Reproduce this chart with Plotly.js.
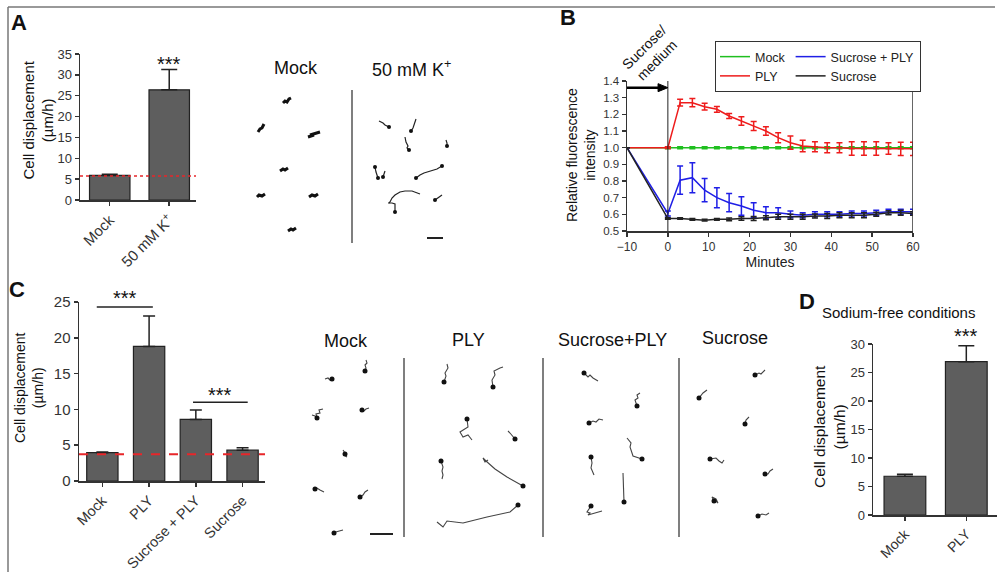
<!DOCTYPE html>
<html><head><meta charset="utf-8">
<script src="https://cdn.plot.ly/plotly-3.0.1.min.js"></script>
<style>html,body{margin:0;padding:0;background:#fff}#chart{width:1000px;height:581px}</style>
</head><body><div id="chart"></div>
<script>
// ---------- DATA ----------
// Panel A
const aCats = ['Mock', '50 mM K<sup>+</sup>'];
const aMeans = [5.9, 26.4];
const aErr = [0.3, 4.9];
const aBaseline = 5.75;
const aYTicks = [0, 5, 10, 15, 20, 25, 30, 35];

// Panel B
const bTime = [-10, 0, 3, 6, 9, 12, 15, 18, 21, 24, 27, 30, 33, 36, 39, 42, 45, 48, 51, 54, 57, 60];
const bMock = [1.0, 1.0, 1.0, 1.0, 1.0, 0.999, 0.999, 1.0, 1.0, 1.0, 1.0, 0.999, 0.999, 1.0, 1.0, 1.0, 1.0, 1.0, 1.0, 1.0, 1.0, 1.0];
const bMockErr = [0, 0.006, 0.006, 0.006, 0.006, 0.006, 0.006, 0.006, 0.006, 0.006, 0.006, 0.006, 0.006, 0.006, 0.006, 0.006, 0.006, 0.006, 0.006, 0.006, 0.006, 0.006];
const bPly = [1.0, 1.0, 1.27, 1.27, 1.246, 1.23, 1.19, 1.16, 1.13, 1.10, 1.06, 1.03, 1.01, 1.005, 1.0, 1.0, 0.995, 0.995, 0.995, 0.995, 0.993, 0.993];
const bPlyErr = [0, 0.005, 0.02, 0.025, 0.02, 0.017, 0.015, 0.025, 0.027, 0.025, 0.03, 0.04, 0.035, 0.03, 0.03, 0.03, 0.04, 0.04, 0.04, 0.035, 0.04, 0.04];
const bSucPly = [1.0, 0.605, 0.805, 0.82, 0.745, 0.70, 0.67, 0.65, 0.625, 0.61, 0.61, 0.60, 0.595, 0.60, 0.60, 0.60, 0.605, 0.605, 0.61, 0.615, 0.615, 0.615];
const bSucPlyErr = [0, 0.015, 0.085, 0.09, 0.07, 0.06, 0.055, 0.055, 0.045, 0.035, 0.03, 0.02, 0.015, 0.015, 0.015, 0.015, 0.015, 0.015, 0.015, 0.015, 0.015, 0.015];
const bSuc = [1.0, 0.575, 0.575, 0.57, 0.565, 0.57, 0.57, 0.575, 0.575, 0.58, 0.585, 0.585, 0.585, 0.59, 0.59, 0.595, 0.595, 0.595, 0.60, 0.61, 0.61, 0.605];
const bSucErr = [0, 0.005, 0.005, 0.005, 0.005, 0.005, 0.008, 0.01, 0.012, 0.012, 0.015, 0.015, 0.015, 0.012, 0.015, 0.015, 0.015, 0.015, 0.012, 0.012, 0.015, 0.01];
const bXTicks = [-10, 0, 10, 20, 30, 40, 50, 60];
const bYTicks = [0.5, 0.6, 0.7, 0.8, 0.9, 1.0, 1.1, 1.2, 1.3, 1.4];
const bTreatStart = -10, bTreatEnd = 0, bArrowLevel = 1.36;

// Panel C
const cCats = ['Mock', 'PLY', 'Sucrose + PLY', 'Sucrose'];
const cMeans = [3.95, 18.8, 8.6, 4.3];
const cErr = [0.1, 4.25, 1.3, 0.35];
const cBaseline = 3.72;
const cYTicks = [0, 5, 10, 15, 20, 25];

// Panel D
const dCats = ['Mock', 'PLY'];
const dMeans = [6.8, 26.9];
const dErr = [0.35, 2.8];
const dYTicks = [0, 5, 10, 15, 20, 25, 30];

// Cell tracks (image units of each micrograph strip)
const aMockTracks = [
  [[33,18],[35,16],[37,17],[39,14],[41,13]],
  [[8,47],[10,44],[12,43],[13,41],[14,39]],
  [[58,52],[64,50],[60,50],[66,48],[70,47]],
  [[30,86],[33,84],[35,85],[38,83]],
  [[7,112],[9,110],[12,111],[15,109]],
  [[59,112],[62,110],[65,111],[68,109]],
  [[38,146],[41,144],[43,145],[46,143]]
];
const aKTracks = [
  [[129,36],[133,38],[135,40],[139,42]],
  [[166,34],[164,40],[163,43],[161,46]],
  [[155,52],[156,57],[158,61],[157,63],[159,65]],
  [[196,55],[197,58],[197,61]],
  [[125,82],[126,87],[128,93]],
  [[133,92],[134,89],[135,86]],
  [[166,93],[170,90],[174,88],[178,87],[182,86],[187,84],[192,81]],
  [[170,109],[162,106],[155,106],[150,107],[145,110],[142,113],[140,117],[139,118]],
  [[138,118],[142,118],[145,119],[145,123],[145,127]],
  [[185,115],[188,113],[192,110]]
];
const aKDots = [[139,42],[161,46],[159,65],[197,61],[128,93],[133,92],[166,93],[192,81],[145,127],[185,115],[125,82]];
const cTracks = [
  // Mock
  [[65,21],[66,18],[65,15],[67,13],[66,10]],
  [[25,29],[28,28],[30,30],[33,29]],
  [[12,65],[15,66],[17,68],[16,64],[20,63],[19,60],[23,59]],
  [[60,60],[64,61],[66,59],[69,58]],
  [[43,100],[45,103],[44,105],[47,107]],
  [[13,139],[17,138],[20,140],[24,142]],
  [[60,147],[63,145],[65,142],[68,140]],
  [[32,183],[36,182],[39,181],[43,180]],
  // PLY
  [[144,32],[146,26],[145,23],[148,18],[147,14]],
  [[193,37],[192,30],[195,25],[194,21],[200,18],[203,17]],
  [[167,69],[168,77],[160,82],[163,87],[168,85],[170,88],[172,90]],
  [[215,89],[212,85],[210,83],[208,81]],
  [[141,111],[143,117],[142,121],[143,125],[142,129]],
  [[223,136],[207,127],[195,119],[190,115],[186,111],[183,108],[185,112],[188,110]],
  [[218,155],[210,162],[187,167],[163,173],[147,171],[143,177],[137,172]],
  // Sucrose + PLY
  [[284,23],[288,27],[290,25],[293,28],[298,31]],
  [[337,56],[335,50],[338,48],[337,45],[340,43]],
  [[289,73],[293,71],[296,72],[299,69],[303,70]],
  [[342,109],[333,106],[330,97],[331,93],[327,88]],
  [[291,107],[292,113],[291,118],[294,125]],
  [[324,152],[323,123]],
  [[291,156],[287,162],[290,163],[288,165],[302,161]],
  // Sucrose
  [[455,25],[459,23],[461,24],[465,20]],
  [[399,48],[401,45],[403,43],[407,40]],
  [[445,74],[446,70],[449,67]],
  [[410,109],[416,108],[419,111],[422,113],[424,110]],
  [[465,124],[468,124],[470,121],[473,119]],
  [[414,151],[412,147],[416,149],[418,153],[415,150]],
  [[458,166],[462,164],[466,165],[469,163]]
];
const cDots = [[65,21],[32,29],[17,68],[62,60],[45,104],[15,139],[60,147],[34,183],
  [144,32],[193,37],[167,69],[215,89],[141,111],[223,136],[218,155],
  [284,23],[337,56],[289,73],[342,109],[291,107],[324,152],[291,156],
  [455,25],[399,48],[445,74],[410,109],[465,124],[414,151],[458,166]];

// ---------- HELPERS ----------
const W = 1000, H = 581;
const px = v => v / W;
const py = v => 1 - v / H;
const FONT = 'Liberation Sans, Arial, sans-serif';
const AX = '#333';
const BARFILL = '#5e5e5e';

function flat(tracks) {
  const x = [], y = [];
  tracks.forEach(t => { t.forEach(p => { x.push(p[0]); y.push(p[1]); }); x.push(null); y.push(null); });
  return {x, y};
}
function valAxis(d0, d1, range, ticks, anchor, size) {
  return {domain: [py(d1), py(d0)], range, tickvals: ticks, anchor,
    showline: true, linecolor: AX, linewidth: 1.5, ticks: 'outside', ticklen: 4, tickwidth: 1.5, tickcolor: AX,
    showgrid: false, zeroline: false, tickfont: {size, color: '#333', family: FONT}};
}
function catAxis(d0, d1, range, anchor, size) {
  return {domain: [px(d0), px(d1)], range, type: 'category', anchor,
    showline: true, linecolor: AX, linewidth: 1.5, ticks: 'outside', ticklen: 4, tickwidth: 1.5, tickcolor: AX,
    tickangle: -45, showgrid: false, zeroline: false, tickfont: {size, color: '#333', family: FONT}};
}
function barTrace(xa, ya, cats, means, err, w, bw) {
  return {type: 'bar', x: cats, y: means, xaxis: xa, yaxis: ya, width: bw, showlegend: false,
    marker: {color: BARFILL, line: {color: '#222', width: 1.2}},
    error_y: {type: 'data', array: err, arrayminus: err.map(() => 0), symmetric: false,
      color: '#222', thickness: 1.5, width: w}};
}
function lineTrace(name, y, err, color, group) {
  return {type: 'scatter', mode: 'lines', name, x: bTime, y, xaxis: 'x2', yaxis: 'y2',
    legendgroup: group, line: {color, width: 1.5},
    error_y: {type: 'data', array: err, color, thickness: 1.5, width: 3}};
}

// ---------- TRACES ----------
const aMockF = flat(aMockTracks), aKF = flat(aKTracks), cF = flat(cTracks);
const data = [
  barTrace('x', 'y', aCats, aMeans, aErr, 8, 0.68),
  lineTrace('Mock', bMock, bMockErr, '#1fbf1f', 'g1'),
  lineTrace('PLY', bPly, bPlyErr, '#ee1c1c', 'g1'),
  lineTrace('Sucrose + PLY', bSucPly, bSucPlyErr, '#1f1fe6', 'g2'),
  lineTrace('Sucrose', bSuc, bSucErr, '#222', 'g2'),
  barTrace('x3', 'y3', cCats, cMeans, cErr, 6, 0.67),
  barTrace('x4', 'y4', dCats, dMeans, dErr, 8, 0.68),
  {type: 'scatter', mode: 'lines', x: aMockF.x, y: aMockF.y, xaxis: 'x5', yaxis: 'y5', showlegend: false,
    line: {color: '#111', width: 3}, hoverinfo: 'skip'},
  {type: 'scatter', mode: 'lines', x: aKF.x, y: aKF.y, xaxis: 'x5', yaxis: 'y5', showlegend: false,
    line: {color: '#222', width: 1.2}, hoverinfo: 'skip'},
  {type: 'scatter', mode: 'markers', x: aKDots.map(p => p[0]), y: aKDots.map(p => p[1]), xaxis: 'x5', yaxis: 'y5',
    showlegend: false, marker: {color: '#111', size: 4}, hoverinfo: 'skip'},
  {type: 'scatter', mode: 'lines', x: cF.x, y: cF.y, xaxis: 'x6', yaxis: 'y6', showlegend: false,
    line: {color: '#444', width: 1.1}, hoverinfo: 'skip'},
  {type: 'scatter', mode: 'markers', x: cDots.map(p => p[0]), y: cDots.map(p => p[1]), xaxis: 'x6', yaxis: 'y6',
    showlegend: false, marker: {color: '#111', size: 5}, hoverinfo: 'skip'}
];

// ---------- LAYOUT ----------
const ann = (x, y, text, size, extra) => Object.assign({xref: 'paper', yref: 'paper', x: px(x), y: py(y), text,
  showarrow: false, font: {size, color: '#111', family: FONT}, xanchor: 'center', yanchor: 'middle'}, extra || {});
const star = (xr, yr, x, y, extra) => Object.assign({xref: xr, yref: yr, x, y, text: '***', showarrow: false, yanchor: 'middle',
  font: {size: 20, color: '#111', family: FONT}}, extra || {});

// arrow (treatment period) in panel B: shaft + filled head, in data units of x2/y2
const headLen = 2.4, headHalf = 0.024;
const arrowHead = `M ${bTreatEnd - headLen},${bArrowLevel + headHalf} L ${bTreatEnd},${bArrowLevel} L ${bTreatEnd - headLen},${bArrowLevel - headHalf} Z`;

const layout = {
  width: W, height: H, margin: {l: 0, r: 0, t: 0, b: 0}, paper_bgcolor: '#fff', plot_bgcolor: 'rgba(0,0,0,0)',
  font: {family: FONT, color: '#222'}, showlegend: true, hovermode: false,
  xaxis: catAxis(80, 196, [-0.5, 1.45], 'y', 15),
  yaxis: valAxis(54, 200, [0, 35], aYTicks, 'x', 13),
  xaxis2: {domain: [px(627), px(913)], range: [-10, 60], tickvals: bXTicks, anchor: 'y2',
    showline: true, linecolor: AX, linewidth: 1.5, ticks: 'outside', ticklen: 4, tickwidth: 1.5, tickcolor: AX,
    showgrid: false, zeroline: false, tickfont: {size: 12, color: '#333'},
    title: {text: 'Minutes', font: {size: 14, color: '#222'}, standoff: 4}},
  yaxis2: Object.assign(valAxis(81, 231, [0.5, 1.4], bYTicks, 'x2', 11.5), {tickformat: '.1f'}),
  xaxis3: catAxis(79, 265, [-0.5, 3.48], 'y3', 14.5),
  yaxis3: valAxis(302, 481, [0, 25], cYTicks, 'x3', 15),
  xaxis4: catAxis(873, 997, [-0.52, 1.5], 'y4', 14),
  yaxis4: valAxis(344, 515, [0, 30], dYTicks, 'x4', 13),
  xaxis5: {domain: [px(250), px(500)], range: [0, 250], visible: false, anchor: 'y5'},
  yaxis5: {domain: [py(250), py(85)], range: [165, 0], visible: false, anchor: 'x5'},
  xaxis6: {domain: [px(300), px(780)], range: [0, 480], visible: false, anchor: 'y6'},
  yaxis6: {domain: [py(545), py(350)], range: [195, 0], visible: false, anchor: 'x6'},
  legend: {x: px(715), y: py(41), xanchor: 'left', yanchor: 'top', orientation: 'h', traceorder: 'grouped',
    bordercolor: '#333', borderwidth: 1, bgcolor: '#fff', font: {size: 12.5, color: '#222'}, itemwidth: 30, tracegroupgap: 2},
  shapes: [
    // figure frame
    {type: 'line', xref: 'paper', yref: 'paper', x0: px(8), x1: px(995), y0: py(7), y1: py(7), line: {color: '#777', width: 1.5}},
    {type: 'line', xref: 'paper', yref: 'paper', x0: px(8), x1: px(8), y0: py(7), y1: py(572), line: {color: '#777', width: 1.5}},
    // baselines
    {type: 'line', xref: 'x domain', yref: 'y', x0: 0, x1: 1, y0: aBaseline, y1: aBaseline, line: {color: '#e8262a', width: 1.5, dash: 'dot'}},
    {type: 'line', xref: 'x3 domain', yref: 'y3', x0: 0, x1: 1, y0: cBaseline, y1: cBaseline, line: {color: '#e8262a', width: 2, dash: 'dash'}},
    // panel B verticals
    {type: 'line', xref: 'x2', yref: 'y2', x0: 0, x1: 0, y0: 0.5, y1: 1.42, line: {color: '#222', width: 1}},
    {type: 'line', xref: 'x2', yref: 'y2', x0: 60, x1: 60, y0: 0.5, y1: 1.4, line: {color: '#333', width: 1.5}},
    // treatment arrow
    {type: 'line', xref: 'x2', yref: 'y2', x0: bTreatStart, x1: bTreatEnd - headLen + 0.3, y0: bArrowLevel, y1: bArrowLevel,
      line: {color: '#000', width: 2.5}},
    {type: 'path', xref: 'x2', yref: 'y2', path: arrowHead, fillcolor: '#000', line: {color: '#000', width: 1}},
    // significance bars panel C
    {type: 'line', xref: 'x3', yref: 'y3', x0: -0.12, x1: 1.08, y0: 24.3, y1: 24.3, line: {color: '#222', width: 1.5}},
    {type: 'line', xref: 'x3', yref: 'y3', x0: 1.94, x1: 3.11, y0: 11.0, y1: 11.0, line: {color: '#222', width: 1.5}},
    // micrograph dividers and scale bars
    {type: 'line', xref: 'x5', yref: 'y5', x0: 102, x1: 102, y0: 5, y1: 158, line: {color: '#555', width: 1.5}},
    {type: 'line', xref: 'x5', yref: 'y5', x0: 177, x1: 193, y0: 153, y1: 153, line: {color: '#222', width: 2}},
    {type: 'line', xref: 'x6', yref: 'y6', x0: 104, x1: 104, y0: 8, y1: 187, line: {color: '#555', width: 1.5}},
    {type: 'line', xref: 'x6', yref: 'y6', x0: 243, x1: 243, y0: 8, y1: 187, line: {color: '#555', width: 1.5}},
    {type: 'line', xref: 'x6', yref: 'y6', x0: 379, x1: 379, y0: 8, y1: 187, line: {color: '#555', width: 1.5}},
    {type: 'line', xref: 'x6', yref: 'y6', x0: 70, x1: 93, y0: 184, y1: 184, line: {color: '#222', width: 2}}
  ],
  annotations: [
    ann(19, 23, '<b>A</b>', 22),
    ann(568, 18, '<b>B</b>', 22),
    ann(17, 289, '<b>C</b>', 22),
    ann(807, 301, '<b>D</b>', 22),
    // y-axis titles
    ann(38.5, 120, 'Cell displacement<br>(µm/h)', 15, {textangle: -90}),
    ann(581, 155, 'Relative fluorescence<br>intensity', 14, {textangle: -90}),
    ann(29, 388, 'Cell displacement<br>(µm/h)', 14, {textangle: -90}),
    ann(829, 427, 'Cell displacement<br>(µm/h)', 15.5, {textangle: -90}),
    // stars
    star('x', 'y', 1, 32.6),
    star('x3', 'y3', 0.48, 24.3, {yanchor: 'bottom', yshift: -4}),
    star('x3', 'y3', 2.52, 12.0),
    star('x4', 'y4', 1, 29.9, {yanchor: 'bottom', yshift: -4}),
    // panel D title
    ann(898, 312, 'Sodium-free conditions', 15),
    // panel B annotation
    ann(650, 54, 'Sucrose/<br>medium', 14, {textangle: -45}),
    // micrograph titles
    ann(296, 68, 'Mock', 18),
    ann(411, 68, '50 mM K<sup>+</sup>', 18),
    ann(346, 341, 'Mock', 18),
    ann(468, 340, 'PLY', 18),
    ann(612, 340, 'Sucrose+PLY', 18),
    ann(735, 338, 'Sucrose', 18)
  ]
};

Plotly.newPlot('chart', data, layout, {staticPlot: true, displayModeBar: false});
</script></body></html>
